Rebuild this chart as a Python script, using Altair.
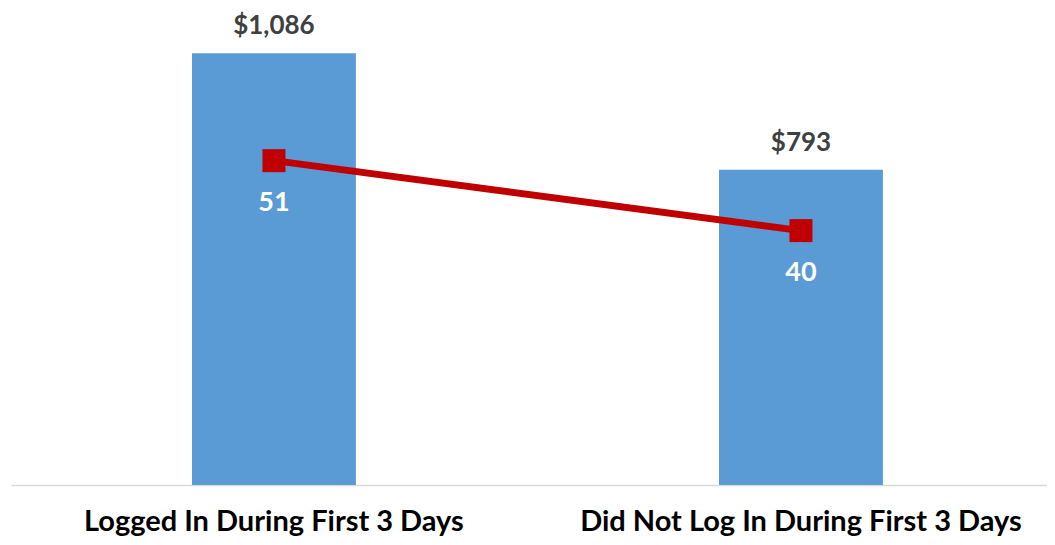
import altair as alt
import pandas as pd

categories = ["Logged In During First 3 Days", "Did Not Log In During First 3 Days"]
revenue = [1086, 793]
revenue_labels = ["$1,086", "$793"]
count_values = [51, 40]

df = pd.DataFrame({
    "cat": categories,
    "rev": revenue,
    "rev_label": revenue_labels,
    "cnt": count_values,
})

FONT = "Lato"

x = alt.X("cat:N", sort=categories,
          scale=alt.Scale(paddingInner=0.689, paddingOuter=0.3274, align=0.5245),
          axis=alt.Axis(title=None, labelAngle=0, ticks=False, domainColor="#D9D9D9",
                        domainWidth=1.5, labelFont=FONT, labelFontSize=29, labelLimit=0,
                        labelFontWeight="bold", labelColor="#000000", labelPadding=22))

ybar = alt.Y("rev:Q", scale=alt.Scale(domain=[0, 1200]), axis=None)
yline = alt.Y("cnt:Q", scale=alt.Scale(domain=[0, 75]), axis=None)

bars = alt.Chart(df).mark_bar(color="#5B9BD5").encode(x=x, y=ybar)
bar_text = alt.Chart(df).mark_text(
    dy=-27, font=FONT, fontSize=26, fontWeight="bold", color="#404040", baseline="middle"
).encode(x=x, y=ybar, text="rev_label:N")

left = alt.layer(bars, bar_text)

line = alt.Chart(df).mark_line(color="#C00000", strokeWidth=7).encode(x=x, y=yline)
pts = alt.Chart(df).mark_point(shape="square", filled=True, opacity=1, size=529,
                               color="#C00000").encode(x=x, y=yline)
line_text = alt.Chart(df).mark_text(
    dy=42, font=FONT, fontSize=27, fontWeight="bold", color="#FFFFFF", baseline="middle"
).encode(x=x, y=yline, text="cnt:Q")

right = alt.layer(line, pts, line_text)

chart = alt.layer(left, right).resolve_scale(y="independent").properties(
    width=1036, height=477,
    autosize=alt.AutoSizeParams(type="none"),
    padding={"left": 3, "top": 0, "right": 0, "bottom": 52},
).configure_view(stroke=None)

chart.save("out.html", embed_options={"renderer": "svg", "actions": False})
